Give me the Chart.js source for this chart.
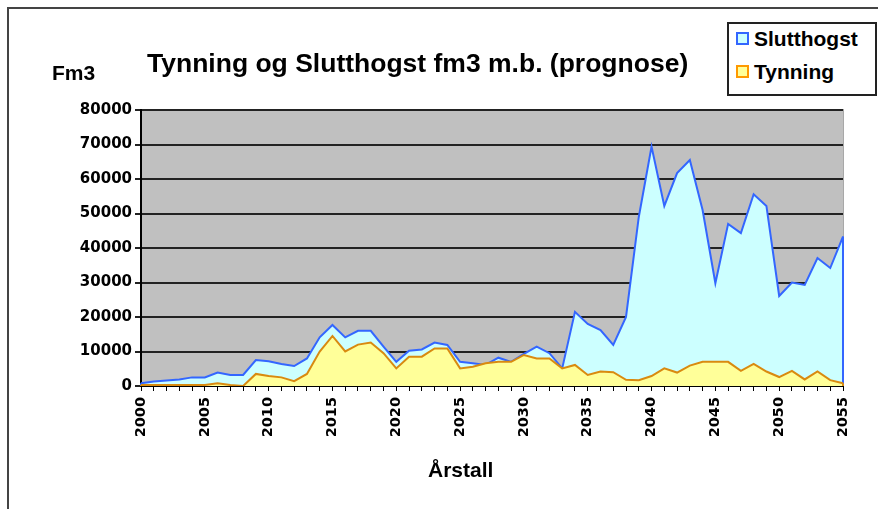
<!DOCTYPE html>
<html>
<head>
<meta charset="utf-8">
<script src="https://cdn.jsdelivr.net/npm/chart.js@4/dist/chart.umd.min.js"></script>
<style>
  body { margin: 0; background: #fff; }
  #wrap { position: relative; width: 878px; height: 509px; overflow: hidden; background: #fff; }
  #frame { position: absolute; left: 7px; top: 7px; width: 900px; height: 600px;
           border-left: 2px solid #444; border-top: 2px solid #444; }
  canvas { position: absolute; left: 0; top: 0; }
  .txt { position: absolute; font-family: "Liberation Sans", Arial, sans-serif; font-weight: bold;
         color: #000; white-space: nowrap; }
  #title { left: 147px; top: 48px; font-size: 26.5px; }
  #unit { left: 52px; top: 61px; font-size: 21px; }
  #xtitle { left: 428px; top: 458px; font-size: 21px; }
  #legend { position: absolute; left: 727px; top: 22px; width: 146px; height: 70px;
            border: 2px solid #222; background: #fff; }
  .item { position: absolute; left: 7px; font-family: "Liberation Sans", Arial, sans-serif;
          font-weight: bold; font-size: 21px; white-space: nowrap; }
  .sw { display: inline-block; width: 9px; height: 9px; border: 2px solid; vertical-align: 1px; margin-right: 5px; }
</style>
</head>
<body>
<div id="wrap">
  <div id="frame"></div>
  <canvas id="c" width="878" height="509"></canvas>
  <div class="txt" id="title">Tynning og Slutthogst fm3 m.b. (prognose)</div>
  <div class="txt" id="unit">Fm3</div>
  <div class="txt" id="xtitle">Årstall</div>
  <div id="legend">
    <div class="item" style="top:3px"><span class="sw" style="border-color:#3366ff;background:#ccffff"></span>Slutthogst</div>
    <div class="item" style="top:36px"><span class="sw" style="border-color:#ff9900;background:#ffff99"></span>Tynning</div>
  </div>
</div>
<script>
var years = [2000, 2001, 2002, 2003, 2004, 2005, 2006, 2007, 2008, 2009,
	2010, 2011, 2012, 2013, 2014, 2015, 2016, 2017, 2018, 2019,
	2020, 2021, 2022, 2023, 2024, 2025, 2026, 2027, 2028, 2029,
	2030, 2031, 2032, 2033, 2034, 2035, 2036, 2037, 2038, 2039,
	2040, 2041, 2042, 2043, 2044, 2045, 2046, 2047, 2048, 2049,
	2050, 2051, 2052, 2053, 2054, 2055];

var slutthogst = [800, 1300, 1600, 1900, 2500, 2500, 3900, 3200, 3200, 7500,
	7200, 6400, 5800, 8000, 14100, 17700, 14100, 16000, 16000, 11400,
	7000, 10200, 10600, 12600, 11900, 7000, 6600, 6100, 8200, 7000,
	9300, 11400, 9500, 5100, 21500, 18000, 16200, 11900, 20000, 49000,
	69400, 52200, 61700, 65500, 51000, 29800, 47000, 44300, 55600, 52200,
	26100, 30000, 29300, 37100, 34200, 43300];

var tynning = [300, 300, 300, 300, 300, 300, 800, 300, 0, 3500,
	2900, 2500, 1400, 3500, 10000, 14500, 10000, 12000, 12600, 9500,
	5100, 8500, 8500, 10900, 10900, 5100, 5600, 6600, 7000, 7000,
	9000, 8000, 8000, 5100, 6100, 3200, 4200, 4000, 1800, 1700,
	2900, 5100, 3900, 5900, 7000, 7000, 7000, 4400, 6400, 4200,
	2600, 4400, 1900, 4200, 1700, 800];

var yTicks = [0, 10000, 20000, 30000, 40000, 50000, 60000, 70000, 80000];

// excel closes the area outline down to the axis at both ends
var closeEdges = {
	id: 'closeEdges',
	afterDatasetDraw: function(chart, args) {
		var meta = args.meta, ds = chart.data.datasets[args.index];
		var pts = meta.data;
		if (!pts.length) return;
		var base = chart.scales.y.getPixelForValue(0);
		var ctx = chart.ctx;
		ctx.save();
		ctx.strokeStyle = ds.borderColor;
		ctx.lineWidth = ds.borderWidth;
		ctx.beginPath();
		ctx.moveTo(pts[0].x, pts[0].y);
		ctx.lineTo(pts[0].x, base);
		ctx.moveTo(pts[pts.length - 1].x, pts[pts.length - 1].y);
		ctx.lineTo(pts[pts.length - 1].x, base);
		ctx.stroke();
		ctx.restore();
	}
};

var plotBg = {
	id: 'plotBg',
	beforeDraw: function(chart) {
		var a = chart.chartArea, ctx = chart.ctx;
		ctx.save();
		ctx.fillStyle = '#c0c0c0';
		ctx.fillRect(a.left, a.top, a.right - a.left, a.bottom - a.top);
		ctx.strokeStyle = '#a8a8a8';
		ctx.lineWidth = 1;
		ctx.strokeRect(a.left + 0.5, a.top - 0.5, a.right - a.left, a.bottom - a.top);
		ctx.restore();
	}
};

new Chart(document.getElementById('c'), {
	type: 'line',
	data: {
		labels: years,
		datasets: [
			{
				label: 'Slutthogst',
				data: slutthogst,
				borderColor: '#3366ff',
				backgroundColor: '#ccffff',
				borderWidth: 2,
				fill: 'origin',
				order: 2
			},
			{
				label: 'Tynning',
				data: tynning,
				borderColor: '#d98a10',
				backgroundColor: '#ffff99',
				borderWidth: 2,
				fill: 'origin',
				order: 1
			}
		]
	},
	options: {
		responsive: false,
		animation: false,
		layout: { padding: { left: 0, right: 35, top: 110, bottom: 0 } },
		elements: { point: { radius: 0 }, line: { tension: 0 } },
		plugins: {
			legend: { display: false },
			title: { display: false },
			tooltip: { enabled: false }
		},
		scales: {
			x: {
				type: 'category',
				offset: false,
				afterFit: function(s) { s.height = 123; },
				grid: { drawOnChartArea: false, drawTicks: true, tickLength: 5, color: '#000', lineWidth: 1 },
				border: { display: true, color: '#000', width: 2 },
				ticks: {
					autoSkip: false,
					minRotation: 90,
					maxRotation: 90,
					padding: 6,
					color: '#000',
					font: { family: 'DejaVu Sans', weight: 'bold', size: 14.5 },
					callback: function(v, i) {
						var yr = years[i];
						return yr % 5 === 0 ? String(yr) : '';
					}
				}
			},
			y: {
				min: 0,
				max: 80000,
				afterFit: function(s) { s.width = 141; },
				afterBuildTicks: function(s) { s.ticks = yTicks.map(function(v) { return { value: v }; }); },
				grid: { color: '#222', lineWidth: 2, tickLength: 6 },
				border: { display: true, color: '#000', width: 2 },
				ticks: {
					padding: 3,
					color: '#000',
					font: { family: 'DejaVu Sans', weight: 'bold', size: 15 },
					callback: function(v) { return String(v); }
				}
			}
		}
	},
	plugins: [plotBg, closeEdges]
});
</script>
</body>
</html>
